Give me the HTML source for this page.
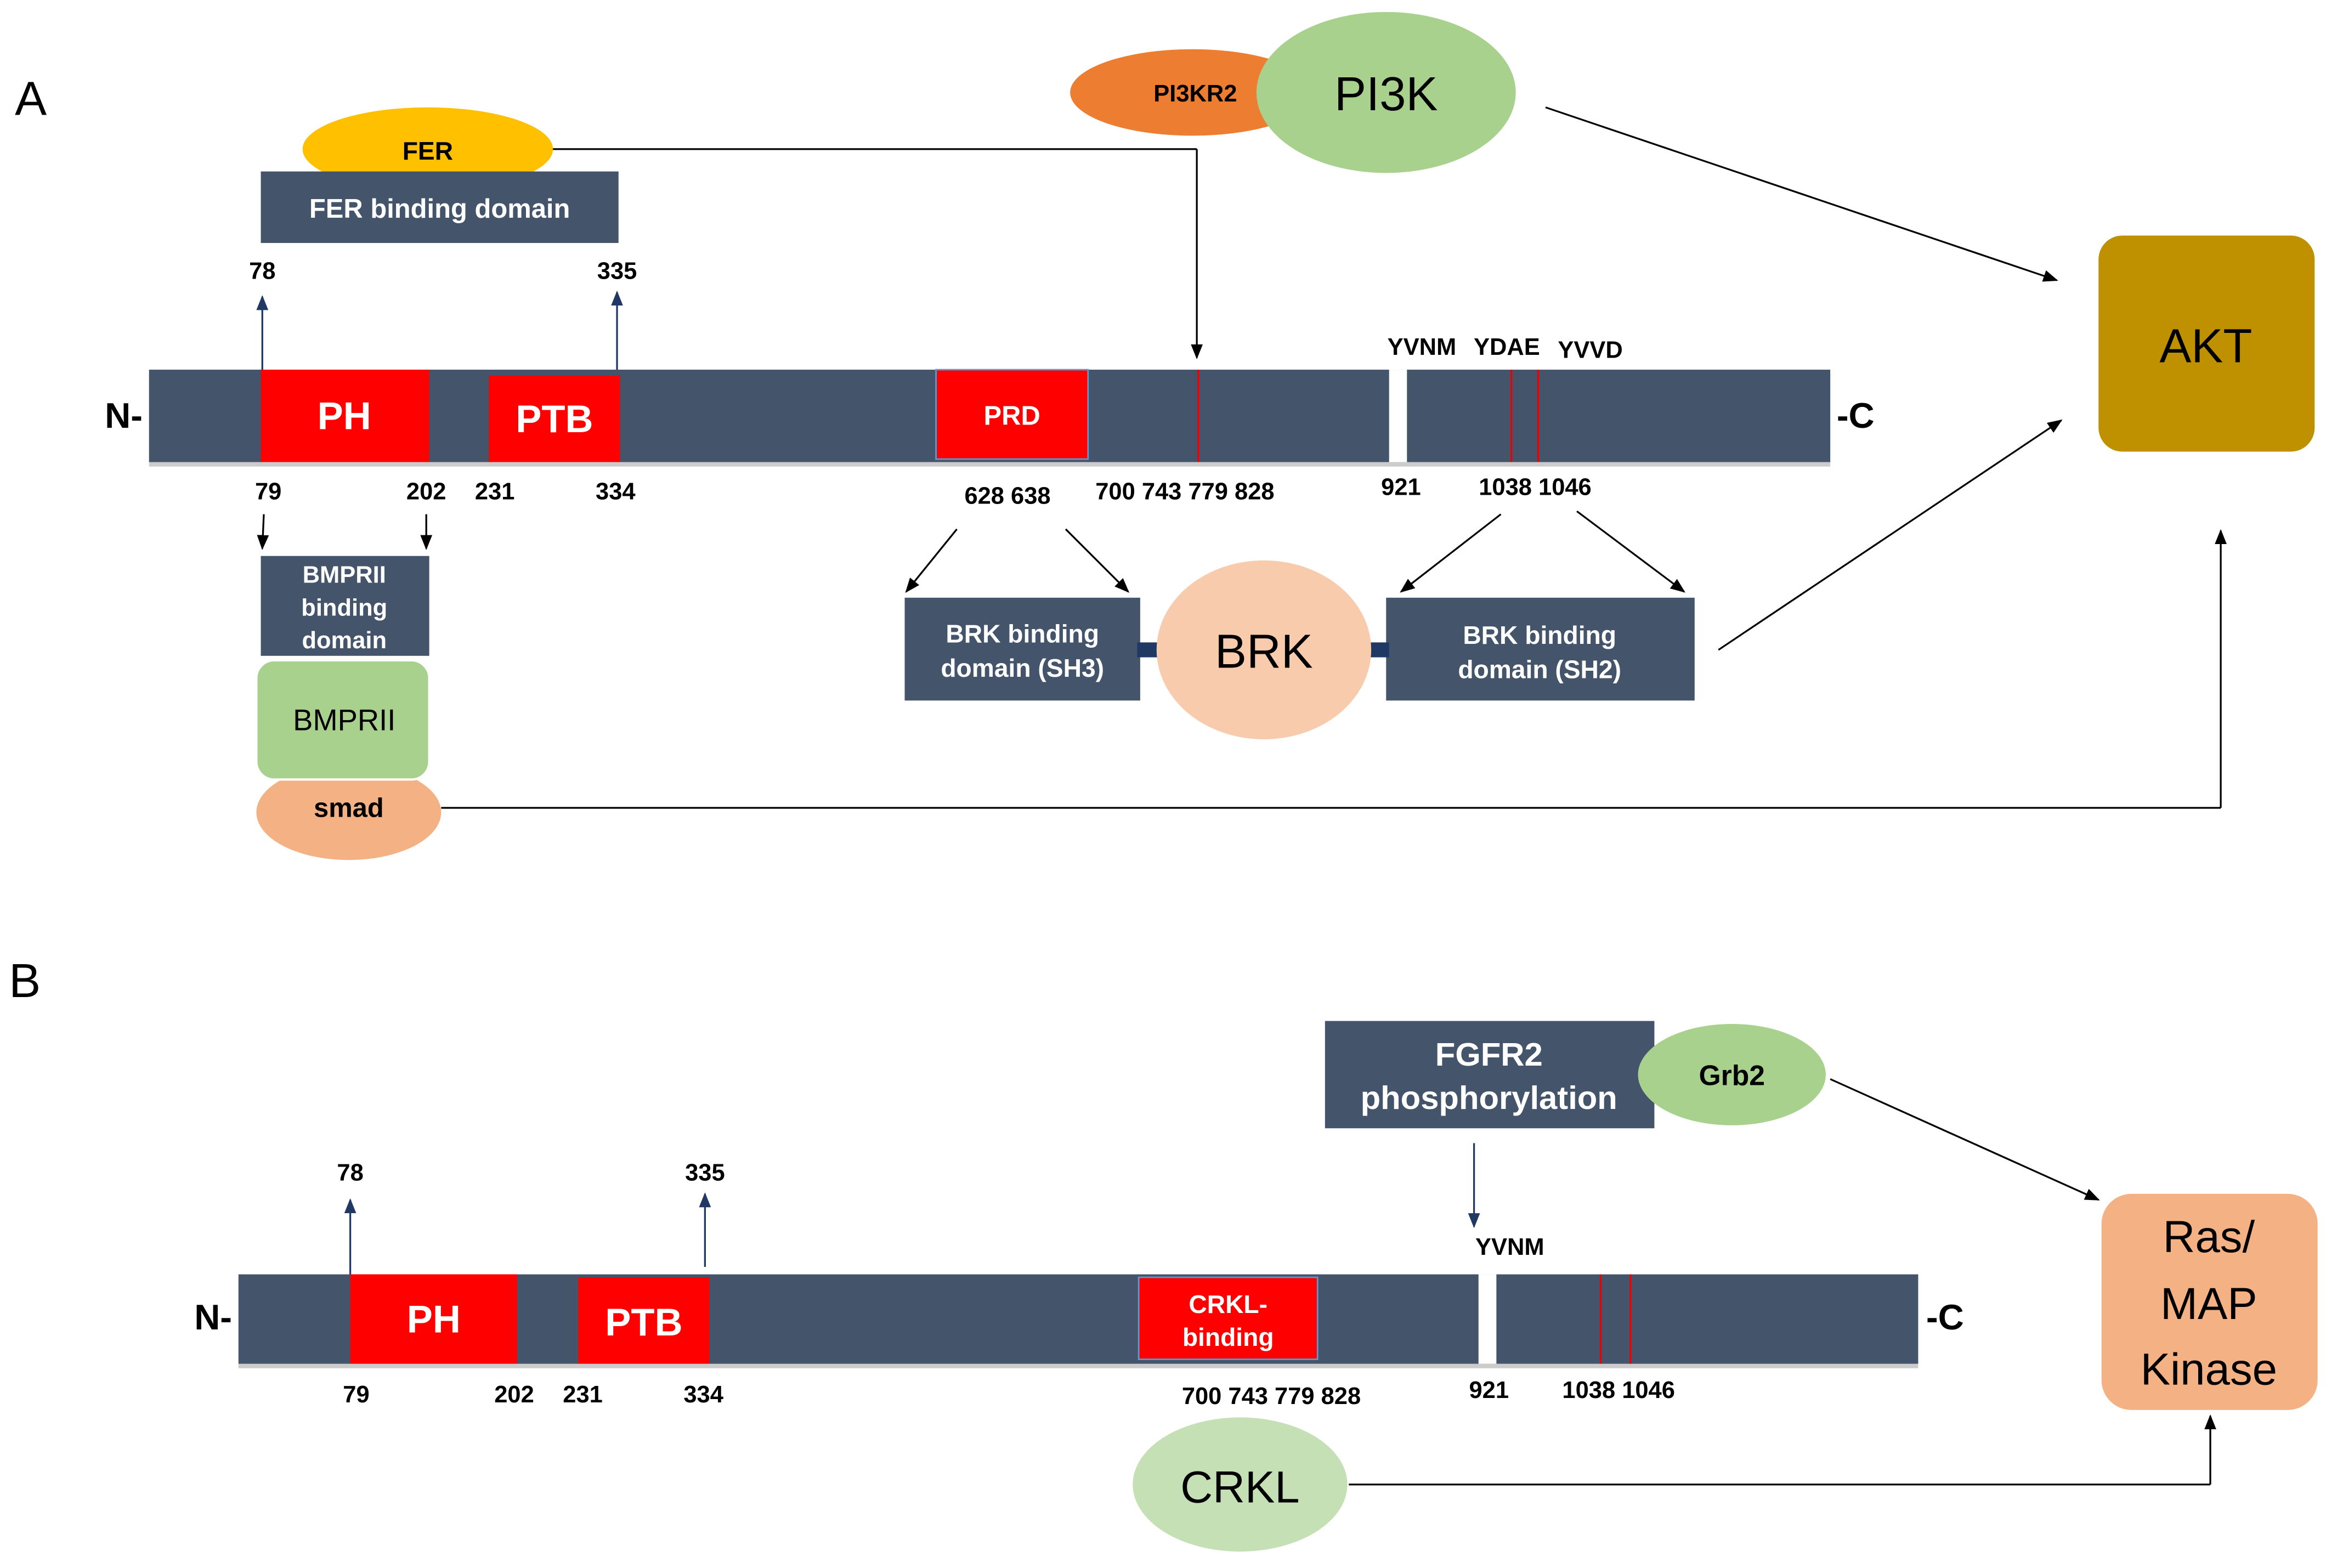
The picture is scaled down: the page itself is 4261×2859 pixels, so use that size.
<!DOCTYPE html>
<html><head><meta charset="utf-8"><style>html,body{margin:0;padding:0;background:#fff}svg{display:block}</style></head><body>
<svg width="4261" height="2859" viewBox="0 0 1568 1052" xmlns="http://www.w3.org/2000/svg" font-family="Liberation Sans, sans-serif">
<defs>
<marker id="ab" markerWidth="10" markerHeight="10" refX="9" refY="5" orient="auto" markerUnits="userSpaceOnUse"><path d="M0,1 L10,5 L0,9 z" fill="#000"/></marker>
<marker id="an" markerWidth="10" markerHeight="10" refX="9" refY="5" orient="auto" markerUnits="userSpaceOnUse"><path d="M0,1 L10,5 L0,9 z" fill="#1F3864"/></marker>
</defs>
<rect width="1568" height="1052" fill="#fff"/>
<!-- A -->
<text x="10" y="77" font-size="32">A</text>
<line x1="370" y1="100" x2="803" y2="100" stroke="#000" stroke-width="1.2"/>
<line x1="803" y1="100" x2="803" y2="240" stroke="#000" stroke-width="1.2" marker-end="url(#ab)"/>
<ellipse cx="287" cy="100" rx="84" ry="28" fill="#FFC000"/>
<text x="287" y="107" font-size="17" font-weight="bold" text-anchor="middle">FER</text>
<rect x="175" y="115" width="240" height="48" fill="#44546A"/>
<text x="295" y="146" font-size="18" font-weight="bold" fill="#fff" text-anchor="middle">FER binding domain</text>
<ellipse cx="800" cy="62" rx="82" ry="29" fill="#ED7D31"/>
<text x="802" y="68" font-size="16" font-weight="bold" text-anchor="middle">PI3KR2</text>
<ellipse cx="930" cy="62" rx="87" ry="54" fill="#A9D18E"/>
<text x="930" y="74" font-size="32" text-anchor="middle">PI3K</text>
<line x1="1037" y1="72" x2="1380" y2="188" stroke="#000" stroke-width="1.2" marker-end="url(#ab)"/>
<rect x="1408" y="158" width="145" height="145" rx="16" fill="#BF9000"/>
<text x="1480" y="243" font-size="32" text-anchor="middle">AKT</text>
<g font-size="16" font-weight="bold" text-anchor="middle">
<text x="176" y="187">78</text><text x="414" y="187">335</text>
</g>
<line x1="176" y1="248" x2="176" y2="199" stroke="#1F3864" stroke-width="1.2" marker-end="url(#an)"/>
<line x1="414" y1="248" x2="414" y2="196" stroke="#1F3864" stroke-width="1.2" marker-end="url(#an)"/>
<rect x="100" y="250" width="1128" height="63" fill="#ccc"/>
<rect x="100" y="248" width="1128" height="62" fill="#44546A"/>
<rect x="175" y="248" width="113" height="62" fill="#FF0000"/>
<rect x="328" y="252" width="88" height="58" fill="#FF0000"/>
<rect x="628" y="248" width="102" height="60" fill="#FF0000" stroke="#5B9BD5" stroke-width="1"/>
<rect x="932" y="248" width="12" height="62" fill="#fff"/>
<line x1="804" y1="248" x2="804" y2="310" stroke="#e00" stroke-width="1.2"/>
<line x1="1014" y1="248" x2="1014" y2="310" stroke="#e00" stroke-width="1.2"/>
<line x1="1032" y1="248" x2="1032" y2="310" stroke="#e00" stroke-width="1.2"/>
<text x="231" y="288" font-size="26" font-weight="bold" fill="#fff" text-anchor="middle">PH</text>
<text x="372" y="290" font-size="26" font-weight="bold" fill="#fff" text-anchor="middle">PTB</text>
<text x="679" y="285" font-size="18" font-weight="bold" fill="#fff" text-anchor="middle">PRD</text>
<text x="83" y="287" font-size="24" font-weight="bold" text-anchor="middle">N-</text>
<text x="1245" y="287" font-size="24" font-weight="bold" text-anchor="middle">-C</text>
<g font-size="16" font-weight="bold" text-anchor="middle">
<text x="954" y="238">YVNM</text><text x="1011" y="238">YDAE</text><text x="1067" y="240">YVVD</text>
<text x="180" y="335">79</text><text x="286" y="335">202</text><text x="332" y="335">231</text><text x="413" y="335">334</text>
<text x="676" y="338">628 638</text><text x="795" y="335">700 743 779 828</text>
<text x="940" y="332">921</text><text x="1030" y="332">1038 1046</text>
</g>
<line x1="177" y1="345" x2="176" y2="368" stroke="#000" stroke-width="1.2" marker-end="url(#ab)"/>
<line x1="286" y1="345" x2="286" y2="368" stroke="#000" stroke-width="1.2" marker-end="url(#ab)"/>
<rect x="175" y="373" width="113" height="67" fill="#44546A"/>
<g font-size="16" font-weight="bold" fill="#fff" text-anchor="middle">
<text x="231" y="391">BMPRII</text><text x="231" y="413">binding</text><text x="231" y="435">domain</text>
</g>
<line x1="296" y1="542" x2="1490" y2="542" stroke="#000" stroke-width="1.2"/>
<line x1="1490" y1="542" x2="1490" y2="356" stroke="#000" stroke-width="1.2" marker-end="url(#ab)"/>
<ellipse cx="234" cy="545" rx="62" ry="32" fill="#F4B183"/>
<rect x="172" y="443" width="116" height="80" rx="12" fill="#A9D18E" stroke="#fff" stroke-width="1.5"/>
<text x="231" y="490" font-size="20" text-anchor="middle">BMPRII</text>
<text x="234" y="548" font-size="18" font-weight="bold" text-anchor="middle">smad</text>
<line x1="642" y1="355" x2="608" y2="397" stroke="#000" stroke-width="1.2" marker-end="url(#ab)"/>
<line x1="715" y1="355" x2="757" y2="397" stroke="#000" stroke-width="1.2" marker-end="url(#ab)"/>
<line x1="1007" y1="345" x2="940" y2="397" stroke="#000" stroke-width="1.2" marker-end="url(#ab)"/>
<line x1="1058" y1="343" x2="1130" y2="397" stroke="#000" stroke-width="1.2" marker-end="url(#ab)"/>
<rect x="607" y="401" width="158" height="69" fill="#44546A"/>
<rect x="930" y="401" width="207" height="69" fill="#44546A"/>
<rect x="763" y="431" width="16" height="10" fill="#1F3864"/>
<rect x="918" y="431" width="14" height="10" fill="#1F3864"/>
<ellipse cx="848" cy="436" rx="72" ry="60" fill="#F8CBAD"/>
<text x="848" y="448" font-size="32" text-anchor="middle">BRK</text>
<g font-size="17" font-weight="bold" fill="#fff" text-anchor="middle">
<text x="686" y="431">BRK binding</text><text x="686" y="454">domain (SH3)</text>
<text x="1033" y="432">BRK binding</text><text x="1033" y="455">domain (SH2)</text>
</g>
<line x1="1153" y1="436" x2="1383" y2="282" stroke="#000" stroke-width="1.2" marker-end="url(#ab)"/>
<!-- B -->
<text x="6" y="669" font-size="32">B</text>
<line x1="1228" y1="724" x2="1408" y2="805" stroke="#000" stroke-width="1.2" marker-end="url(#ab)"/>
<rect x="889" y="685" width="221" height="72" fill="#44546A"/>
<text x="999" y="715" font-size="22" font-weight="bold" fill="#fff" text-anchor="middle">FGFR2</text>
<text x="999" y="744" font-size="22" font-weight="bold" fill="#fff" text-anchor="middle">phosphorylation</text>
<ellipse cx="1162" cy="721" rx="63" ry="34" fill="#A9D18E"/>
<text x="1162" y="728" font-size="19" font-weight="bold" text-anchor="middle">Grb2</text>
<rect x="1410" y="801" width="145" height="145" rx="20" fill="#F4B183"/>
<g font-size="30" text-anchor="middle"><text x="1482" y="840">Ras/</text><text x="1482" y="885">MAP</text><text x="1482" y="929">Kinase</text></g>
<line x1="989" y1="767" x2="989" y2="823" stroke="#1F3864" stroke-width="1.2" marker-end="url(#an)"/>
<text x="1013" y="842" font-size="16" font-weight="bold" text-anchor="middle">YVNM</text>
<g font-size="16" font-weight="bold" text-anchor="middle"><text x="235" y="792">78</text><text x="473" y="792">335</text></g>
<line x1="235" y1="855" x2="235" y2="805" stroke="#1F3864" stroke-width="1.2" marker-end="url(#an)"/>
<line x1="473" y1="850" x2="473" y2="801" stroke="#1F3864" stroke-width="1.2" marker-end="url(#an)"/>
<rect x="160" y="857" width="1127" height="61" fill="#ccc"/>
<rect x="160" y="855" width="1127" height="60" fill="#44546A"/>
<rect x="235" y="855" width="112" height="60" fill="#FF0000"/>
<rect x="388" y="857" width="88" height="58" fill="#FF0000"/>
<rect x="764" y="857" width="120" height="55" fill="#FF0000" stroke="#5B9BD5" stroke-width="1"/>
<rect x="992" y="855" width="12" height="60" fill="#fff"/>
<line x1="1074" y1="855" x2="1074" y2="915" stroke="#e00" stroke-width="1.2"/>
<line x1="1094" y1="855" x2="1094" y2="915" stroke="#e00" stroke-width="1.2"/>
<text x="291" y="894" font-size="26" font-weight="bold" fill="#fff" text-anchor="middle">PH</text>
<text x="432" y="896" font-size="26" font-weight="bold" fill="#fff" text-anchor="middle">PTB</text>
<text x="824" y="881" font-size="17" font-weight="bold" fill="#fff" text-anchor="middle">CRKL-</text>
<text x="824" y="903" font-size="17" font-weight="bold" fill="#fff" text-anchor="middle">binding</text>
<text x="143" y="892" font-size="24" font-weight="bold" text-anchor="middle">N-</text>
<text x="1305" y="892" font-size="24" font-weight="bold" text-anchor="middle">-C</text>
<g font-size="16" font-weight="bold" text-anchor="middle">
<text x="239" y="941">79</text><text x="345" y="941">202</text><text x="391" y="941">231</text><text x="472" y="941">334</text>
<text x="853" y="942">700 743 779 828</text><text x="999" y="938">921</text><text x="1086" y="938">1038 1046</text>
</g>
<line x1="905" y1="996" x2="1483" y2="996" stroke="#000" stroke-width="1.2"/>
<line x1="1483" y1="996" x2="1483" y2="950" stroke="#000" stroke-width="1.2" marker-end="url(#ab)"/>
<ellipse cx="832" cy="996" rx="72" ry="45" fill="#C5E0B4"/>
<text x="832" y="1008" font-size="30" text-anchor="middle">CRKL</text>
</svg>
</body></html>
